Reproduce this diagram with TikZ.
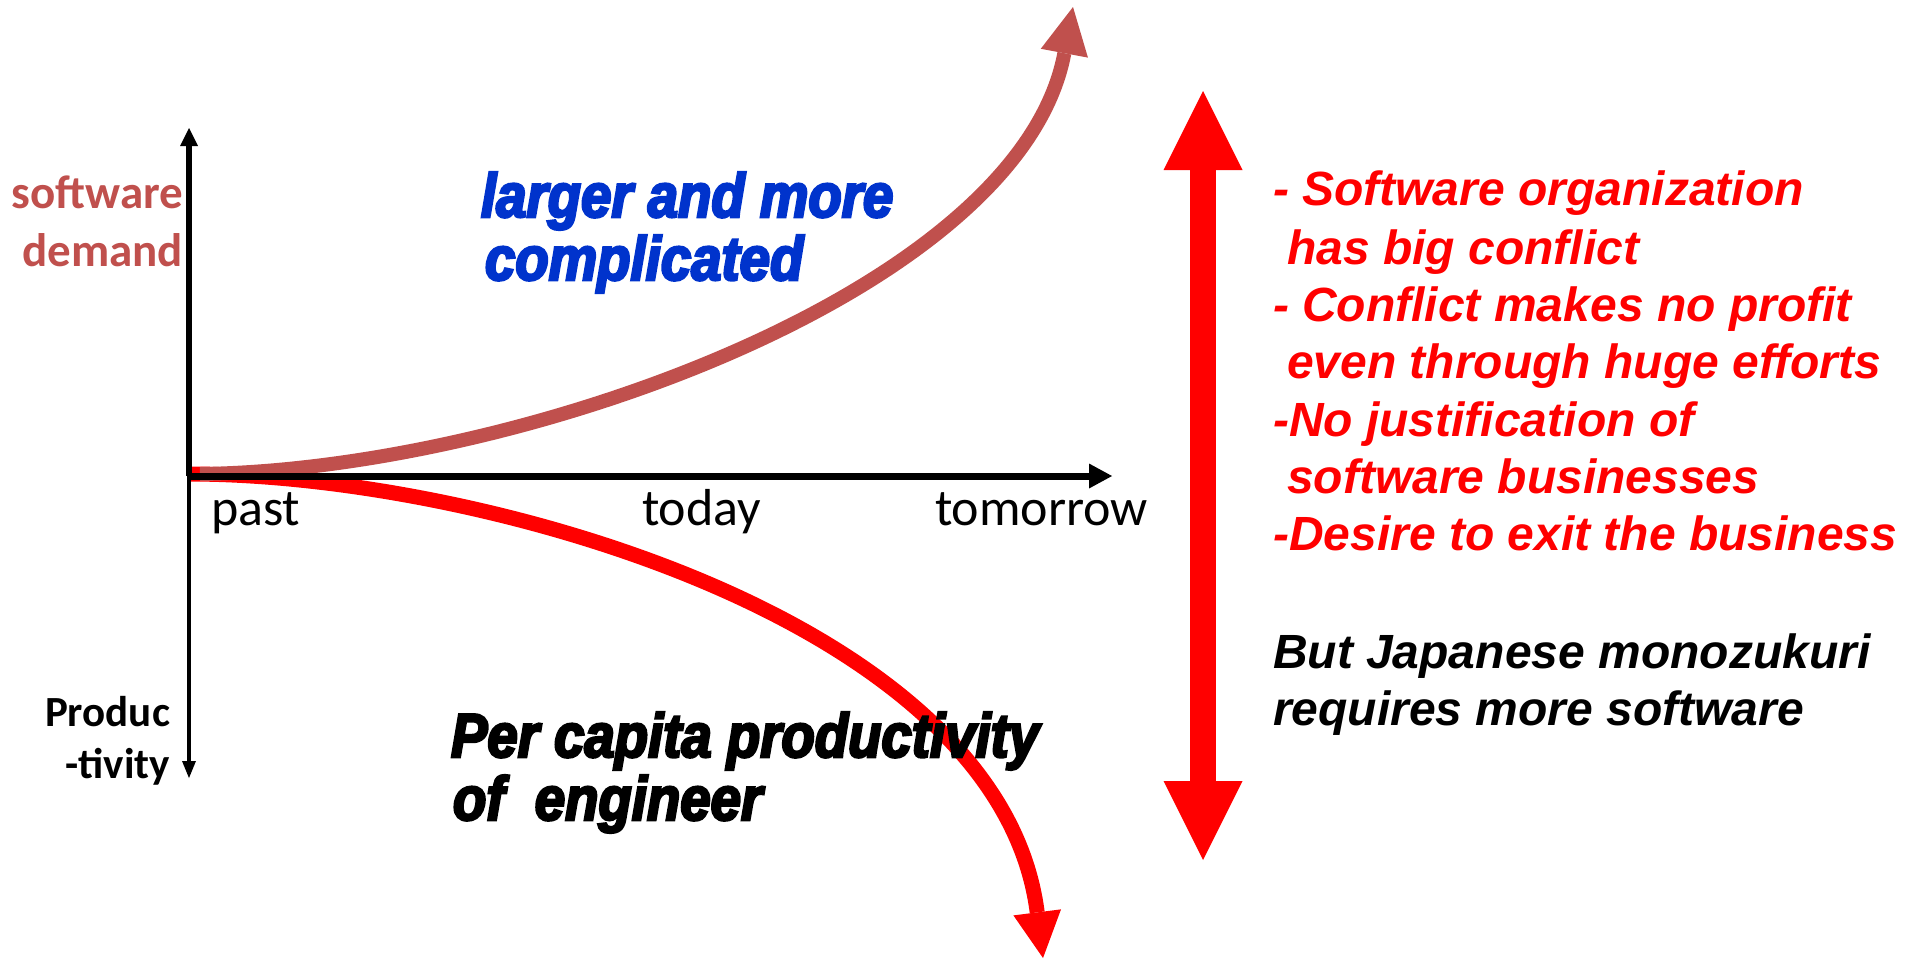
\documentclass[tikz,border=0pt]{standalone}
\usepackage{fontspec}
\usetikzlibrary{arrows.meta}
\setmainfont{Carlito}
\newfontfamily\arialfont{Liberation Sans}
\newfontfamily\heavyfont[FakeStretch=0.88,BoldItalicFeatures={FakeBold=4}]{Liberation Sans}
\definecolor{sdbrown}{HTML}{C0504D}
\definecolor{cblue}{HTML}{0033CC}
\definecolor{pured}{HTML}{FF0000}
\begin{document}
\begin{tikzpicture}[x=1pt,y=-1pt,
  lbl/.style={inner sep=0pt,outer sep=0pt},
  axislab/.style={lbl,anchor=base west,font=\fontsize{52}{60}\selectfont},
  ylab/.style={lbl,anchor=base east,text=sdbrown,font=\bfseries\fontsize{47}{57}\selectfont},
  plab/.style={lbl,anchor=base east,font=\bfseries\fontsize{43}{50}\selectfont},
  heavy/.style={lbl,anchor=base west,font=\heavyfont\bfseries\itshape\fontsize{62}{63}\selectfont},
  rtext/.style={lbl,anchor=base west,text=pured,font=\arialfont\bfseries\itshape\fontsize{48}{57.5}\selectfont},
  btext/.style={rtext,text=black}]
\useasboundingbox (0,0) rectangle (1905,959);

% coordinates
\coordinate (O) at (189,476);
\coordinate (ytop) at (189,128);
\coordinate (ybot) at (189,778);
\coordinate (xend) at (1112,476);
\coordinate (bstart) at (200,474);
\coordinate (btip) at (1073,7);
\coordinate (rstart) at (189,474);
\coordinate (rtip) at (1043,958);
\coordinate (dtop) at (1203,91);
\coordinate (dbot) at (1203,860);

% curves
\draw[pured,line width=15,-{Triangle[length=46pt,width=48pt,line width=0pt]}]
  (rstart) .. controls (480,474) and (1000,620) .. (rtip);
\draw[sdbrown,line width=14,-{Triangle[length=47pt,width=48pt,line width=0pt]}]
  (bstart) .. controls (520,470) and (1020,290) .. (btip);

% axes
\draw[line width=5.5,-{Triangle[length=18pt,width=18pt,line width=0pt]}] (O) -- (ytop);
\draw[line width=3.5,-{Triangle[length=17pt,width=14pt,line width=0pt]}] (O) -- (ybot);
\draw[line width=7,-{Triangle[length=23pt,width=25pt,line width=0pt]}] (O) -- (xend);

% double arrow
\draw[pured,line width=26,
  {Triangle[length=79pt,width=79pt,line width=0pt]}-{Triangle[length=79pt,width=79pt,line width=0pt]}]
  (dtop) -- (dbot);

% axis labels
\node[ylab] (sw) at (183,208) {software};
\node[ylab] (dm) at (183,266) {demand};
\node[axislab] (past) at (211,525) {past};
\node[axislab] (today) at (642,525) {today};
\node[axislab] (tomorrow) at (935,525) {tomorrow};
\node[plab] (prod1) at (170,726) {Produc};
\node[plab] (prod2) at (170,778) {-tivity};

% curve labels
\node[heavy,text=cblue] (lg1) at (481,217) {larger and more};
\node[heavy,text=cblue] (lg2) at (485,280) {complicated};
\node[heavy,text=black] (pc1) at (451,757) {Per capita productivity};
\node[heavy,text=black] (pc2) at (453,820) {of\ \ engineer};

% right text
\node[rtext] (r1) at (1273,205) {- Software organization};
\node[rtext] (r2) at (1287,264) {has big conflict};
\node[rtext] (r3) at (1273,321) {- Conflict makes no profit};
\node[rtext] (r4) at (1287,378) {even through huge efforts};
\node[rtext] (r5) at (1273,436) {-No justification of};
\node[rtext] (r6) at (1287,493) {software businesses};
\node[rtext] (r7) at (1273,550) {-Desire to exit the business};
\node[btext] (b1) at (1273,668) {But Japanese monozukuri};
\node[btext] (b2) at (1273,725) {requires more software};
\end{tikzpicture}
\end{document}
